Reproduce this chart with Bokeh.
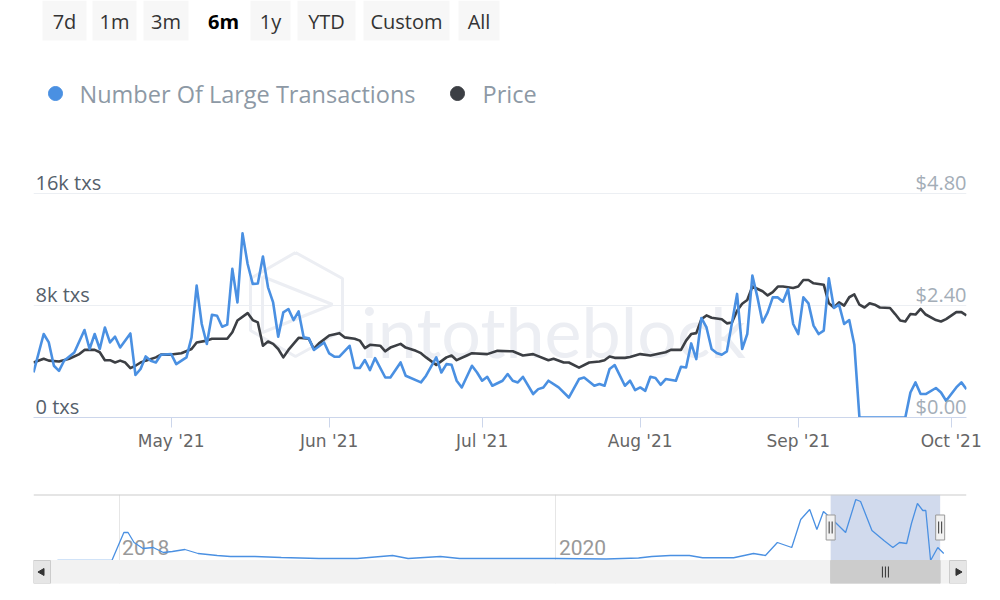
import pandas as pd
from bokeh.plotting import figure
from bokeh.layouts import column
from bokeh.models import Range1d, FixedTicker, MonthsTicker, DatetimeTickFormatter, Span
from bokeh.core.properties import value
from bokeh.embed import file_html
from bokeh.resources import INLINE

# ---------------- data ----------------
tx_dates = ["2021-04-04", "2021-04-06", "2021-04-07", "2021-04-08", "2021-04-09", "2021-04-10",
            "2021-04-12", "2021-04-14", "2021-04-15", "2021-04-16", "2021-04-17", "2021-04-18",
            "2021-04-19", "2021-04-20", "2021-04-21", "2021-04-23", "2021-04-24", "2021-04-25",
            "2021-04-26", "2021-04-27", "2021-04-28", "2021-04-29", "2021-05-01", "2021-05-02",
            "2021-05-04", "2021-05-05", "2021-05-06", "2021-05-07", "2021-05-08", "2021-05-09",
            "2021-05-10", "2021-05-11", "2021-05-12", "2021-05-13", "2021-05-14", "2021-05-15",
            "2021-05-16", "2021-05-17", "2021-05-18", "2021-05-19", "2021-05-20", "2021-05-21",
            "2021-05-22", "2021-05-23", "2021-05-24", "2021-05-25", "2021-05-26", "2021-05-27",
            "2021-05-28", "2021-05-29", "2021-05-31", "2021-06-01", "2021-06-02", "2021-06-03",
            "2021-06-05", "2021-06-06", "2021-06-07", "2021-06-08", "2021-06-09", "2021-06-10",
            "2021-06-12", "2021-06-13", "2021-06-15", "2021-06-16", "2021-06-19", "2021-06-20",
            "2021-06-22", "2021-06-23", "2021-06-24", "2021-06-25", "2021-06-26", "2021-06-27",
            "2021-06-29", "2021-06-30", "2021-07-01", "2021-07-02", "2021-07-03", "2021-07-05",
            "2021-07-06", "2021-07-07", "2021-07-08", "2021-07-09", "2021-07-11", "2021-07-12",
            "2021-07-13", "2021-07-14", "2021-07-16", "2021-07-18", "2021-07-20", "2021-07-21",
            "2021-07-23", "2021-07-24", "2021-07-25", "2021-07-26", "2021-07-27", "2021-07-29",
            "2021-07-30", "2021-07-31", "2021-08-01", "2021-08-02", "2021-08-03", "2021-08-04",
            "2021-08-05", "2021-08-06", "2021-08-08", "2021-08-09", "2021-08-10", "2021-08-11",
            "2021-08-12", "2021-08-13", "2021-08-14", "2021-08-15", "2021-08-16", "2021-08-17",
            "2021-08-18", "2021-08-20", "2021-08-21", "2021-08-22", "2021-08-23", "2021-08-24",
            "2021-08-25", "2021-08-26", "2021-08-27", "2021-08-28", "2021-08-29", "2021-08-30",
            "2021-08-31", "2021-09-01", "2021-09-02", "2021-09-03", "2021-09-04", "2021-09-05",
            "2021-09-06", "2021-09-07", "2021-09-08", "2021-09-09", "2021-09-10", "2021-09-11",
            "2021-09-12", "2021-09-13", "2021-09-22", "2021-09-23", "2021-09-24", "2021-09-25",
            "2021-09-26", "2021-09-28", "2021-09-29", "2021-09-30", "2021-10-02", "2021-10-03",
            "2021-10-04"]
tx_values = [3220, 5970, 5370, 3700, 3340, 4060,
             4650, 6260, 4900, 5970, 4900, 6440,
             5370, 5780, 5010, 6010, 3040, 3470,
             4370, 4060, 3940, 4490, 4540, 3820,
             4300, 5730, 9430, 6690, 5260, 7350,
             7280, 6490, 6640, 10630, 8230, 13170,
             10980, 9550, 9590, 11510, 9310, 8230,
             5780, 7520, 7760, 6970, 7590, 5730,
             5660, 4830, 5370, 4580, 4350, 4350,
             5130, 3540, 3540, 4110, 3390, 4250,
             2860, 2860, 3940, 2990, 2510, 2990,
             4300, 3220, 3820, 3770, 2630, 2150,
             3700, 3220, 2630, 2910, 2270, 2630,
             3110, 2630, 2510, 2910, 1680, 2030,
             2150, 2630, 2150, 1430, 2750, 2860,
             2270, 2390, 2270, 3470, 3750, 2270,
             2630, 1960, 2150, 1910, 2910, 2820,
             2340, 2750, 2630, 3630, 3580, 5300,
             4180, 7120, 6440, 4900, 4610, 4490,
             4730, 8840, 4900, 5970, 10150, 8590,
             6800, 7520, 8590, 8590, 8280, 9190,
             6690, 5970, 8590, 8160, 6570, 5970,
             6210, 9950, 7830, 8070, 6690, 6970,
             5210, 0, 0, 1790, 2510, 1680,
             1680, 2110, 1790, 1200, 2150, 2510,
             2030]

price_dates = ["2021-04-04", "2021-04-06", "2021-04-07", "2021-04-09", "2021-04-11", "2021-04-13",
               "2021-04-14", "2021-04-16", "2021-04-17", "2021-04-18", "2021-04-19", "2021-04-20",
               "2021-04-21", "2021-04-22", "2021-04-23", "2021-04-24", "2021-04-25", "2021-04-26",
               "2021-04-28", "2021-04-29", "2021-05-01", "2021-05-03", "2021-05-05", "2021-05-06",
               "2021-05-08", "2021-05-09", "2021-05-12", "2021-05-13", "2021-05-14", "2021-05-16",
               "2021-05-17", "2021-05-18", "2021-05-19", "2021-05-20", "2021-05-21", "2021-05-22",
               "2021-05-23", "2021-05-24", "2021-05-25", "2021-05-26", "2021-05-28", "2021-05-29",
               "2021-05-30", "2021-06-01", "2021-06-03", "2021-06-04", "2021-06-06", "2021-06-07",
               "2021-06-08", "2021-06-09", "2021-06-11", "2021-06-12", "2021-06-13", "2021-06-15",
               "2021-06-16", "2021-06-18", "2021-06-19", "2021-06-20", "2021-06-22", "2021-06-24",
               "2021-06-25", "2021-06-26", "2021-06-28", "2021-06-29", "2021-07-02", "2021-07-04",
               "2021-07-07", "2021-07-09", "2021-07-11", "2021-07-14", "2021-07-15", "2021-07-17",
               "2021-07-18", "2021-07-20", "2021-07-22", "2021-07-24", "2021-07-25", "2021-07-26",
               "2021-07-27", "2021-07-29", "2021-07-30", "2021-08-01", "2021-08-03", "2021-08-05",
               "2021-08-06", "2021-08-07", "2021-08-09", "2021-08-10", "2021-08-11", "2021-08-12",
               "2021-08-13", "2021-08-14", "2021-08-15", "2021-08-17", "2021-08-18", "2021-08-19",
               "2021-08-20", "2021-08-21", "2021-08-22", "2021-08-23", "2021-08-25", "2021-08-26",
               "2021-08-27", "2021-08-28", "2021-08-29", "2021-08-31", "2021-09-01", "2021-09-02",
               "2021-09-03", "2021-09-04", "2021-09-06", "2021-09-07", "2021-09-08", "2021-09-09",
               "2021-09-10", "2021-09-11", "2021-09-12", "2021-09-13", "2021-09-14", "2021-09-15",
               "2021-09-16", "2021-09-17", "2021-09-19", "2021-09-20", "2021-09-21", "2021-09-22",
               "2021-09-23", "2021-09-24", "2021-09-25", "2021-09-26", "2021-09-28", "2021-09-29",
               "2021-09-30", "2021-10-02", "2021-10-03", "2021-10-04"]
price_values = [1.18, 1.26, 1.22, 1.20, 1.26, 1.36,
                1.45, 1.45, 1.40, 1.23, 1.23, 1.18,
                1.22, 1.18, 1.06, 1.11, 1.18, 1.22,
                1.29, 1.35, 1.35, 1.38, 1.47, 1.61,
                1.65, 1.69, 1.69, 1.83, 2.08, 2.24,
                2.09, 2.04, 1.54, 1.63, 1.58, 1.47,
                1.29, 1.45, 1.58, 1.71, 1.69, 1.47,
                1.59, 1.76, 1.81, 1.72, 1.69, 1.65,
                1.49, 1.56, 1.54, 1.42, 1.50, 1.58,
                1.50, 1.43, 1.38, 1.29, 1.13, 1.29,
                1.33, 1.23, 1.33, 1.38, 1.36, 1.43,
                1.42, 1.33, 1.36, 1.23, 1.26, 1.18,
                1.18, 1.07, 1.18, 1.20, 1.23, 1.31,
                1.28, 1.28, 1.30, 1.36, 1.33, 1.38,
                1.40, 1.45, 1.45, 1.65, 1.79, 1.81,
                2.11, 2.19, 2.14, 2.11, 2.02, 2.04,
                2.29, 2.44, 2.52, 2.81, 2.71, 2.62,
                2.69, 2.81, 2.81, 2.78, 2.81, 2.95,
                2.95, 2.88, 2.85, 2.45, 2.36, 2.47,
                2.40, 2.58, 2.64, 2.42, 2.36, 2.45,
                2.42, 2.36, 2.35, 2.22, 2.08, 2.06,
                2.22, 2.21, 2.33, 2.21, 2.09, 2.06,
                2.11, 2.26, 2.26, 2.19]

nav_dates = ["2017-09-20", "2017-12-20", "2018-01-09", "2018-01-16", "2018-01-26", "2018-02-10",
             "2018-02-27", "2018-03-16", "2018-03-31", "2018-04-21", "2018-05-13", "2018-06-14",
             "2018-07-06", "2018-08-16", "2018-09-29", "2018-12-01", "2019-02-03", "2019-04-03",
             "2019-04-29", "2019-06-22", "2019-07-24", "2019-10-17", "2019-12-31", "2020-03-25",
             "2020-05-18", "2020-06-09", "2020-07-10", "2020-08-11", "2020-09-02", "2020-10-24",
             "2020-11-26", "2020-12-16", "2021-01-05", "2021-01-29", "2021-02-13", "2021-02-28",
             "2021-03-12", "2021-03-23", "2021-04-12", "2021-04-29", "2021-05-16", "2021-05-24",
             "2021-06-12", "2021-07-02", "2021-07-17", "2021-07-28", "2021-08-09", "2021-08-17",
             "2021-08-27", "2021-09-05", "2021-09-10", "2021-09-18", "2021-09-30", "2021-10-10"]
nav_values = [0, 0, 5600, 5600, 3600, 2400,
              2600, 1600, 1800, 2200, 1400, 1000,
              800, 800, 600, 400, 400, 1000,
              400, 800, 400, 400, 400, 300,
              500, 800, 1000, 1000, 550, 550,
              1400, 1000, 3600, 2600, 8200, 10200,
              6200, 9800, 7600, 5600, 12200, 11800,
              6000, 4000, 2600, 3600, 3400, 7400,
              11400, 10000, 10000, 0, 2600, 1400]

range_buttons = ["7d", "1m", "3m", "6m", "1y", "YTD", "Custom", "All"]
selected_button = "6m"
series_names = ["Number Of Large Transactions", "Price"]
tx_ticks = [0, 8000, 16000]
tx_tick_labels = ["0 txs", "8k txs", "16k txs"]
price_ticks = [0.0, 2.4, 4.8]
price_tick_labels = ["$0.00", "$2.40", "$4.80"]
nav_years = ["2018-01-01", "2020-01-01"]
nav_year_labels = ["2018", "2020"]

view_start, view_end = "2021-04-04", "2021-10-04"
nav_start, nav_end = "2017-08-11", "2021-11-17"

# ---------------- styling ----------------
BLUE = "#4a90e2"
DARK = "#3c3f44"
FONT = "Open Sans"


def ms(d):
    return pd.Timestamp(d).value / 1e6


X0, X1 = ms(view_start), ms(view_end)
FL, FR = 33, 966          # frame left / right in page pixels
FT, FB = 0, 417           # main frame top / bottom in page pixels
Y16 = 193.3               # page y of the 16k grid line
YMAX = tx_ticks[-1] * (FB - FT) / (FB - Y16)
PMAX = YMAX * price_ticks[-1] / tx_ticks[-1]


def sx(px):
    return X0 + (X1 - X0) * (px - FL) / (FR - FL)


def sy(py):
    return (FB - py) / (FB - FT) * YMAX


p = figure(width=992, height=480, x_axis_type="datetime",
           x_range=Range1d(X0, X1), y_range=Range1d(0, YMAX),
           output_backend="svg", toolbar_location=None,
           min_border_left=FL, min_border_right=992 - FR, min_border_top=FT,
           min_border_bottom=480 - FB)
p.extra_y_ranges = {"price": Range1d(0, PMAX)}
p.outline_line_color = None
p.background_fill_color = "white"
p.border_fill_color = "white"
p.yaxis.visible = False
p.xgrid.visible = False
p.ygrid.ticker = FixedTicker(ticks=tx_ticks[1:])
p.ygrid.grid_line_color = "#eceff3"
p.ygrid.grid_line_width = 1

xa = p.xaxis[0]
xa.ticker = MonthsTicker(months=list(range(12)))
xa.formatter = DatetimeTickFormatter(months="%b '%y", days="%b '%y", years="%b '%y")
xa.axis_line_color = "#ccd6eb"
xa.major_tick_line_color = "#ccd6eb"
xa.minor_tick_line_color = None
xa.major_tick_out = 10
xa.major_tick_in = 0
xa.major_label_standoff = 3
xa.major_label_text_font = "DejaVu Sans"
xa.major_label_text_font_size = "17px"
xa.major_label_text_color = "#666666"

# watermark (logo + word)
WM = "#eceef3"
hexx = [295, 342, 342, 295, 250, 250, 295]
hexy = [252, 278, 330, 356, 330, 278, 252]
p.line([sx(v) for v in hexx], [sy(v) for v in hexy], line_color=WM, line_width=3)
trix = [262, 332, 262, 262]
triy = [276, 304, 332, 276]
p.line([sx(v) for v in trix], [sy(v) for v in triy], line_color=WM, line_width=3)
p.text(x=[sx(553)], y=[sy(330)], text=["intotheblock"], text_align="center",
       text_baseline="alphabetic", text_font=value("Lato"), text_font_size="70px",
       text_color=WM)

# range buttons
btn_left = [42, 92, 143, 207, 250, 297, 363, 458]
btn_right = [86, 136, 188, 239, 290, 355, 449, 499]
for lab, l, r in zip(range_buttons, btn_left, btn_right):
    sel = lab == selected_button
    if not sel:
        p.quad(left=[sx(l)], right=[sx(r)], top=[sy(0)], bottom=[sy(40)],
               fill_color="#f7f7f7", line_color=None)
    p.text(x=[sx((l + r) / 2)], y=[sy(21)], text=[lab], text_align="center",
           text_baseline="middle", text_font=value(FONT), text_font_size="20px",
           text_color="#000000" if sel else "#333333",
           text_font_style="bold" if sel else "normal")

# legend
p.scatter(x=[sx(55), sx(457)], y=[sy(93), sy(93)], size=14, color=[BLUE, DARK])
p.text(x=[sx(79), sx(482)], y=[sy(93), sy(93)], text=series_names, text_align="left",
       text_baseline="middle", text_font=value(FONT), text_font_size="23.5px",
       text_color="#8d99a5")

# series
p.line([ms(d) for d in price_dates], price_values, y_range_name="price",
       line_color=DARK, line_width=2.6, line_join="round")
p.line([ms(d) for d in tx_dates], tx_values, line_color=BLUE, line_width=2.6, line_join="round")

# axis labels drawn inside the plot
p.text(x=[X0] * 3, y=tx_ticks, text=tx_tick_labels, x_offset=2, y_offset=-11,
       text_align="left", text_baseline="middle", text_font=value(FONT),
       text_font_size="20px", text_color="#55606b")
p.text(x=[X1] * 3, y=price_ticks, text=price_tick_labels, y_offset=-11, y_range_name="price",
       text_align="right", text_baseline="middle", text_font=value(FONT),
       text_font_size="20px", text_color="#a3adb7")

# ---------------- navigator ----------------
NX0, NX1 = ms(nav_start), ms(nav_end)
NFIG = 480                # page y of navigator figure top
NTOP, NBASE, NBOT = 494, 560, 583
NMAX = 13200
NPX = NMAX / (NBASE - NTOP)


def nsx(px):
    return NX0 + (NX1 - NX0) * (px - FL) / (FR - FL)


def nsy(py):
    return (NBASE - py) * NPX


nav = figure(width=992, height=110, x_axis_type="datetime",
             x_range=Range1d(NX0, NX1), y_range=Range1d(nsy(NBOT), NMAX),
             output_backend="svg", toolbar_location=None,
             min_border_left=FL, min_border_right=992 - FR, min_border_top=NTOP - NFIG,
             min_border_bottom=NFIG + 110 - NBOT)
nav.outline_line_color = None
nav.xaxis.visible = False
nav.yaxis.visible = False
nav.ygrid.visible = False
nav.xgrid.ticker = FixedTicker(ticks=[ms(d) for d in nav_years])
nav.xgrid.grid_line_color = "#e6e6e6"
nav.add_layout(Span(location=NMAX, dimension="width", line_color="#cccccc", line_width=2))

# selected window
nav.quad(left=[X0], right=[X1], top=[NMAX], bottom=[0], fill_color="#6685c2",
         fill_alpha=0.3, line_color=None)
nav.text(x=[ms(d) for d in nav_years], y=[nsy(547)] * 2, text=nav_year_labels, x_offset=3,
         text_align="left", text_baseline="middle", text_font=value("Roboto"),
         text_font_size="21px", text_color="#999999")
nav.line([ms(d) for d in nav_dates], nav_values, line_color=BLUE, line_width=1.3)

# scrollbar
nav.quad(left=[NX0], right=[NX1], top=[0], bottom=[nsy(NBOT)], fill_color="#f2f2f2",
         line_color="#f2f2f2")
nav.quad(left=[nsx(33), nsx(949)], right=[nsx(50), nsx(966)], top=[0, 0],
         bottom=[nsy(NBOT)] * 2, fill_color="#e6e6e6", line_color="#cccccc")
nav.scatter(x=[nsx(41.5), nsx(957.5)], y=[nsy(571.5)] * 2, marker="triangle", size=7,
            angle=[1.5708, -1.5708], color="#333333")
nav.quad(left=[X0], right=[X1], top=[0], bottom=[nsy(NBOT)], fill_color="#cccccc",
         line_color="#cccccc")
pxms = (NX1 - NX0) / (FR - FL)
mid = (X0 + X1) / 2
nav.segment(x0=[mid - 3 * pxms, mid, mid + 3 * pxms], x1=[mid - 3 * pxms, mid, mid + 3 * pxms],
            y0=[nsy(566)] * 3, y1=[nsy(577)] * 3, line_color="#333333", line_width=1)

# handles
nav.rect(x=[X0, X1], y=[nsy(527)] * 2, width=9, height=25, width_units="screen",
         height_units="screen", fill_color="#f2f2f2", line_color="#999999")
hx = []
for hc in (X0, X1):
    hx += [hc - 1.5 * pxms, hc + 1.5 * pxms]
nav.segment(x0=hx, x1=hx, y0=[nsy(521)] * 4, y1=[nsy(533)] * 4, line_color="#333333",
            line_width=1)

layout = column(p, nav)
open("out.html", "w").write(file_html(layout, INLINE))
